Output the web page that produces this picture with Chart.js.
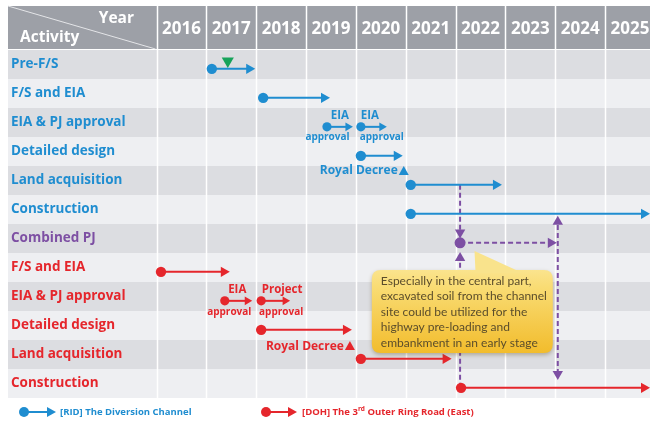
<!DOCTYPE html>
<html>
<head>
<meta charset="utf-8">
<title>Implementation schedule</title>
<script src="https://cdn.jsdelivr.net/npm/chart.js@4.4.1/dist/chart.umd.min.js"></script>
<style>
  html, body { margin: 0; padding: 0; background: #ffffff; }
  canvas { display: block; }
</style>
</head>
<body>
<canvas id="schedule" width="650" height="421"></canvas>
<script>
// ---- Schedule content ------------------------------------------------------
const years = [2016, 2017, 2018, 2019, 2020, 2021, 2022, 2023, 2024, 2025];

const activities = [
  'Pre-F/S', 'F/S and EIA', 'EIA & PJ approval', 'Detailed design', 'Land acquisition', 'Construction',
  'Combined PJ',
  'F/S and EIA', 'EIA & PJ approval', 'Detailed design', 'Land acquisition', 'Construction'
];
const activityOwner = ['RID', 'RID', 'RID', 'RID', 'RID', 'RID', 'JOINT', 'DOH', 'DOH', 'DOH', 'DOH', 'DOH'];

// [RID] The Diversion Channel: row, start and finish (decimal year)
const ridRows   = [0, 1, 2, 2, 3, 4, 5];
const ridStart  = [2017.11, 2018.14, 2019.42, 2020.10, 2020.10, 2021.10, 2021.10];
const ridFinish = [2017.86, 2019.36, 2019.84, 2020.52, 2020.82, 2022.81, 2025.78];

// [DOH] The 3rd Outer Ring Road (East): row, start and finish (decimal year)
const dohRows   = [7, 8, 8, 9, 10, 11];
const dohStart  = [2016.09, 2017.37, 2018.10, 2018.10, 2020.10, 2022.11];
const dohFinish = [2017.35, 2017.82, 2018.58, 2019.80, 2021.80, 2025.78];

// Pre-F/S milestone
const milestoneYear = [2017.43];
const milestoneRow  = [-0.12];

// Combined project milestone and the links that tie both projects together
const combinedYear = [2022.09];
const combinedRow  = [6.15];
const linkPaths = [
  [[2022.09, 4.15], [2022.09, 5.79]],
  [[2022.09, 11.15], [2022.09, 6.67]],
  [[2022.09, 6.15], [2023.91, 6.15]],
  [[2024.05, 10.67], [2024.05, 5.42]]
];
const linkHeads = [['none', 'down'], ['none', 'up'], ['none', 'right'], ['down', 'up']];

// Step captions
const noteText  = ['EIA', 'EIA', 'approval', 'approval', 'Royal Decree', 'EIA', 'Project', 'approval', 'approval', 'Royal Decree'];
const noteYear  = [2019.68, 2020.28, 2019.43, 2020.52, 2020.96, 2017.62, 2018.52, 2017.46, 2018.50, 2019.88];
const noteRow   = [1.78, 1.78, 2.50, 2.50, 3.67, 7.78, 7.78, 8.53, 8.53, 9.71];
const noteOwner = ['RID', 'RID', 'RID', 'RID', 'RID', 'DOH', 'DOH', 'DOH', 'DOH', 'DOH'];

const calloutLines = [
  'Especially in the central part,',
  'excavated soil from the channel',
  'site could be utilized for the',
  'highway pre-loading and',
  'embankment in an early stage'
];

const legendLabels = ['[RID] The Diversion Channel', '[DOH] The 3|rd| Outer Ring Road (East)'];

// ---- Styling -----------------------------------------------------------------
const COLORS = {
  RID: '#1f8dd0',
  DOH: '#e5262c',
  JOINT: '#7d4fa3',
  milestone: '#17a35a',
  header: '#9da0a7',
  rowDark: '#dcdde1',
  rowLight: '#eeeff2'
};
const ROW_SHIFT = 0.15;
const FONT = '"Open Sans", "DejaVu Sans", sans-serif';
const HEAD_ROT = { none: 0, up: 0, right: 90, down: 180 };

function taskDataset(start, finish, row, color) {
  const minor = finish - start < 0.6;
  return {
    data: [{ x: start, y: row + ROW_SHIFT }, { x: finish, y: row + ROW_SHIFT }],
    showLine: true,
    borderColor: color,
    backgroundColor: color,
    borderWidth: 2,
    pointStyle: ['circle', 'triangle'],
    pointRotation: [0, 90],
    pointRadius: minor ? [4.6, 5] : [5.2, 6],
    pointBorderWidth: 0,
    clip: false
  };
}

const datasets = [];
ridRows.forEach((r, i) => datasets.push(taskDataset(ridStart[i], ridFinish[i], r, COLORS.RID)));
dohRows.forEach((r, i) => datasets.push(taskDataset(dohStart[i], dohFinish[i], r, COLORS.DOH)));

datasets.push({
  data: milestoneYear.map((x, i) => ({ x, y: milestoneRow[i] })),
  showLine: false,
  backgroundColor: COLORS.milestone,
  pointStyle: 'triangle',
  pointRotation: 180,
  pointRadius: 7,
  pointBorderWidth: 0,
  clip: false
});

datasets.push({
  data: combinedYear.map((x, i) => ({ x, y: combinedRow[i] })),
  showLine: false,
  backgroundColor: COLORS.JOINT,
  pointStyle: 'circle',
  pointRadius: 5.5,
  pointBorderWidth: 0,
  clip: false
});

linkPaths.forEach((path, i) => {
  const heads = linkHeads[i];
  datasets.push({
    data: path.map(([x, y]) => ({ x, y })),
    showLine: true,
    borderColor: COLORS.JOINT,
    backgroundColor: COLORS.JOINT,
    borderWidth: 2,
    borderDash: [5, 3],
    pointStyle: 'triangle',
    pointRotation: heads.map(h => HEAD_ROT[h]),
    pointRadius: heads.map(h => (h === 'none' ? 0 : 6)),
    pointBorderWidth: 0,
    clip: false
  });
});

// ---- Drawing helpers ---------------------------------------------------------
function arrowIcon(ctx, x0, x1, y, color) {
  ctx.save();
  ctx.fillStyle = color;
  ctx.strokeStyle = color;
  ctx.lineWidth = 2;
  ctx.beginPath();
  ctx.moveTo(x0, y);
  ctx.lineTo(x1 - 6, y);
  ctx.stroke();
  ctx.beginPath();
  ctx.arc(x0, y, 5, 0, Math.PI * 2);
  ctx.fill();
  ctx.beginPath();
  ctx.moveTo(x1, y);
  ctx.lineTo(x1 - 9, y - 5);
  ctx.lineTo(x1 - 9, y + 5);
  ctx.closePath();
  ctx.fill();
  ctx.restore();
}

function roundRectPath(ctx, x, y, w, h, r) {
  ctx.moveTo(x + r, y);
  ctx.lineTo(x + w - r, y);
  ctx.quadraticCurveTo(x + w, y, x + w, y + r);
  ctx.lineTo(x + w, y + h - r);
  ctx.quadraticCurveTo(x + w, y + h, x + w - r, y + h);
  ctx.lineTo(x + r, y + h);
  ctx.quadraticCurveTo(x, y + h, x, y + h - r);
  ctx.lineTo(x, y + r);
  ctx.quadraticCurveTo(x, y, x + r, y);
}

const ganttPlugin = {
  id: 'ganttFrame',
  beforeDraw(chart) {
    const { ctx, chartArea: ca, scales: { x, y } } = chart;
    const left = 8;
    const right = chart.width;
    ctx.save();
    // header band
    ctx.fillStyle = COLORS.header;
    ctx.fillRect(left, 6, right - left, ca.top - 7);
    // alternating row bands
    activities.forEach((a, i) => {
      const top = y.getPixelForValue(i - 0.5);
      const bottom = y.getPixelForValue(i + 0.5);
      ctx.fillStyle = i % 2 === 0 ? COLORS.rowDark : COLORS.rowLight;
      ctx.fillRect(left, top, right - left, bottom - top);
    });
    // column separators
    ctx.strokeStyle = '#ffffff';
    ctx.lineWidth = 1.5;
    years.forEach(yr => {
      const px = Math.round(x.getPixelForValue(yr)) + 0.5;
      ctx.beginPath();
      ctx.moveTo(px, 6);
      ctx.lineTo(px, ca.bottom);
      ctx.stroke();
    });
    // split header cell
    ctx.strokeStyle = '#e4e5e8';
    ctx.lineWidth = 1;
    ctx.beginPath();
    ctx.moveTo(left, 6);
    ctx.lineTo(ca.left - 1, ca.top - 1);
    ctx.stroke();
    ctx.fillStyle = '#ffffff';
    ctx.font = 'bold 15.5px ' + FONT;
    ctx.textBaseline = 'middle';
    ctx.textAlign = 'right';
    ctx.fillText('Year', 134, 19);
    ctx.textAlign = 'left';
    ctx.fillText('Activity', 20, 38);
    ctx.restore();
  },
  afterDatasetsDraw(chart) {
    const { ctx, scales: { x, y } } = chart;
    ctx.save();
    ctx.textBaseline = 'middle';

    // step captions
    noteText.forEach((t, i) => {
      const px = x.getPixelForValue(noteYear[i]);
      const py = y.getPixelForValue(noteRow[i]);
      ctx.fillStyle = noteOwner[i] === 'RID' ? COLORS.RID : COLORS.DOH;
      if (t === 'Royal Decree') {
        ctx.font = 'bold 12px ' + FONT;
        ctx.textAlign = 'right';
        ctx.fillText(t, px - 6, py);
        ctx.beginPath();
        ctx.moveTo(px, py - 5);
        ctx.lineTo(px + 5, py + 4);
        ctx.lineTo(px - 5, py + 4);
        ctx.closePath();
        ctx.fill();
      } else {
        ctx.font = (t === 'approval' ? 'bold 10px ' : 'bold 11.5px ') + FONT;
        ctx.textAlign = 'center';
        ctx.fillText(t, px, py);
      }
    });

    // callout box
    const bx0 = x.getPixelForValue(2020.32);
    const bx1 = x.getPixelForValue(2023.95);
    const by0 = y.getPixelForValue(7.09);
    const by1 = y.getPixelForValue(9.95);
    const ax = x.getPixelForValue(2022.38);
    const ay = y.getPixelForValue(6.43);
    const grad = ctx.createLinearGradient(0, ay, 0, by1);
    grad.addColorStop(0, '#fcecab');
    grad.addColorStop(0.35, '#f9dc74');
    grad.addColorStop(1, '#f2bc2c');
    ctx.save();
    ctx.shadowColor = 'rgba(90, 70, 20, 0.35)';
    ctx.shadowBlur = 4;
    ctx.shadowOffsetY = 2;
    ctx.beginPath();
    roundRectPath(ctx, bx0, by0, bx1 - bx0, by1 - by0, 9);
    ctx.fillStyle = grad;
    ctx.fill();
    ctx.restore();
    ctx.beginPath();
    ctx.moveTo(ax, ay);
    ctx.lineTo(ax + 1, by0 + 3);
    ctx.lineTo(ax + 48, by0 + 3);
    ctx.closePath();
    ctx.fillStyle = '#f9e38c';
    ctx.fill();
    ctx.fillStyle = '#5b4d2b';
    ctx.font = '12px Lato, ' + FONT;
    ctx.textAlign = 'left';
    calloutLines.forEach((line, i) => {
      ctx.fillText(line, bx0 + 9, by0 + 11 + i * 15.5);
    });

    // legend
    const ly = 412;
    arrowIcon(ctx, 24, 56, ly, COLORS.RID);
    arrowIcon(ctx, 266, 297, ly, COLORS.DOH);
    ctx.font = 'bold 9.5px ' + FONT;
    ctx.textAlign = 'left';
    ctx.fillStyle = COLORS.RID;
    ctx.fillText(legendLabels[0], 60, ly);
    ctx.fillStyle = COLORS.DOH;
    let lx = 302;
    legendLabels[1].split('|').forEach((part, i) => {
      if (i === 1) {
        ctx.font = 'bold 6.5px ' + FONT;
        ctx.fillText(part, lx, ly - 3);
      } else {
        ctx.font = 'bold 9.5px ' + FONT;
        ctx.fillText(part, lx, ly);
      }
      lx += ctx.measureText(part).width;
    });
    ctx.restore();
  }
};

// ---- Chart -------------------------------------------------------------------
new Chart(document.getElementById('schedule'), {
  type: 'scatter',
  data: { datasets },
  options: {
    responsive: false,
    animation: false,
    events: [],
    layout: { autoPadding: false, padding: { left: 11, top: 6, right: 0, bottom: 23 } },
    plugins: { legend: { display: false }, tooltip: { enabled: false } },
    elements: { line: { tension: 0 } },
    scales: {
      x: {
        type: 'linear',
        position: 'top',
        min: 2016,
        max: 2025.9,
        afterBuildTicks: s => { s.ticks = years.map(v => ({ value: v + 0.5 })); },
        afterFit: s => { s.height = 44; s.paddingLeft = 0; s.paddingRight = 0; },
        grid: { display: false, drawTicks: false },
        border: { display: false },
        ticks: {
          autoSkip: false,
          maxRotation: 0,
          padding: 11,
          color: '#ffffff',
          font: { family: FONT, size: 17, weight: 'bold' },
          callback: v => String(Math.floor(v))
        }
      },
      y: {
        type: 'linear',
        reverse: true,
        min: -0.5,
        max: 11.5,
        afterBuildTicks: s => { s.ticks = activities.map((a, i) => ({ value: i })); },
        afterFit: s => { s.width = 145.5; s.paddingTop = 0; s.paddingBottom = 0; },
        grid: { display: false, drawTicks: false },
        border: { display: false },
        ticks: {
          autoSkip: false,
          crossAlign: 'far',
          padding: 0,
          color: c => COLORS[activityOwner[c.index]],
          font: { family: FONT, size: 13.5, weight: 'bold' },
          callback: v => activities[v]
        }
      }
    }
  },
  plugins: [ganttPlugin]
});
</script>
</body>
</html>
